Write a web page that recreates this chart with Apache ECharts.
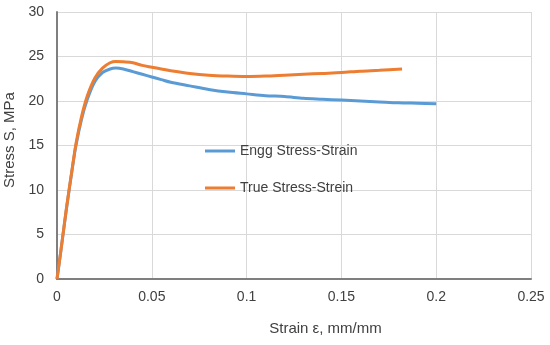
<!DOCTYPE html>
<html><head><meta charset="utf-8">
<script src="https://cdn.jsdelivr.net/npm/echarts@6/dist/echarts.min.js"></script>
<style>html,body{margin:0;padding:0;background:#fff}#c{width:550px;height:345px}</style>
</head><body><div id="c"></div>
<script>
const enggStrain = [0,0.002,0.005,0.008,0.010,0.013,0.016,0.020,0.024,0.028,0.031,0.035,0.040,0.045,0.050,0.055,0.060,0.070,0.080,0.090,0.100,0.110,0.120,0.130,0.140,0.150,0.160,0.170,0.180,0.190,0.200];
const enggStress = [0,3.1,7.9,12.3,15,18,20.2,22.2,23.2,23.6,23.7,23.6,23.3,23.0,22.7,22.4,22.1,21.7,21.3,21.0,20.8,20.6,20.5,20.3,20.2,20.1,20.0,19.9,19.8,19.75,19.7];
const trueStrain = [0,0.002,0.005,0.008,0.010,0.013,0.016,0.020,0.024,0.028,0.031,0.035,0.040,0.045,0.050,0.055,0.060,0.070,0.080,0.090,0.100,0.110,0.120,0.130,0.140,0.150,0.160,0.170,0.182];
const trueStress = [0,3.1,8.0,12.4,15.2,18.3,20.6,22.6,23.7,24.3,24.45,24.4,24.3,24.0,23.8,23.6,23.4,23.1,22.9,22.8,22.75,22.8,22.9,23.0,23.1,23.2,23.35,23.45,23.6];
const seriesNames = ['Engg Stress-Strain','True Stress-Strein'];
const xTicks = {min:0,max:0.25,interval:0.05};
const yTicks = {min:0,max:30,interval:5};

const zip = (a,b)=>a.map((v,i)=>[v,b[i]]);
const font = 'Liberation Sans, Arial, sans-serif';
const chart = echarts.init(document.getElementById('c'));
chart.setOption({
  animation:false,
  grid:{left:57,top:12,right:19,bottom:66,outerBoundsMode:'none',containLabel:false},
  legend:{
    orient:'vertical',left:205,top:144,padding:0,itemGap:23,itemWidth:30,itemHeight:3,icon:'rect',
    textStyle:{fontFamily:font,fontSize:14,color:'#404040'},
    data:seriesNames
  },
  xAxis:{
    type:'value',min:xTicks.min,max:xTicks.max,interval:xTicks.interval,
    name:'Strain ε, mm/mm',nameLocation:'middle',nameGap:42,
    nameTextStyle:{fontFamily:font,fontSize:15,color:'#404040',padding:[0,0,0,63]},
    axisLine:{lineStyle:{color:'#7f7f7f',width:2}},
    axisTick:{show:false},
    axisLabel:{fontFamily:font,fontSize:14,color:'#404040',margin:11},
    splitLine:{show:true,lineStyle:{color:'#d9d9d9',width:1}}
  },
  yAxis:{
    type:'value',min:yTicks.min,max:yTicks.max,interval:yTicks.interval,
    name:'Stress S, MPa',nameLocation:'middle',nameGap:40,
    nameTextStyle:{fontFamily:font,fontSize:15,color:'#404040',padding:[0,0,0,11]},
    axisLine:{show:true,lineStyle:{color:'#7f7f7f',width:2}},
    axisTick:{show:false},
    axisLabel:{fontFamily:font,fontSize:14,color:'#404040',margin:13},
    splitLine:{show:true,lineStyle:{color:'#d9d9d9',width:1}}
  },
  series:[
    {name:seriesNames[0],type:'line',data:zip(enggStrain,enggStress),symbol:'none',smooth:0.3,
     lineStyle:{color:'#5B9BD5',width:3},itemStyle:{color:'#5B9BD5'}},
    {name:seriesNames[1],type:'line',data:zip(trueStrain,trueStress),symbol:'none',smooth:0.3,
     lineStyle:{color:'#ED7D31',width:3},itemStyle:{color:'#ED7D31'}}
  ]
});
</script></body></html>
